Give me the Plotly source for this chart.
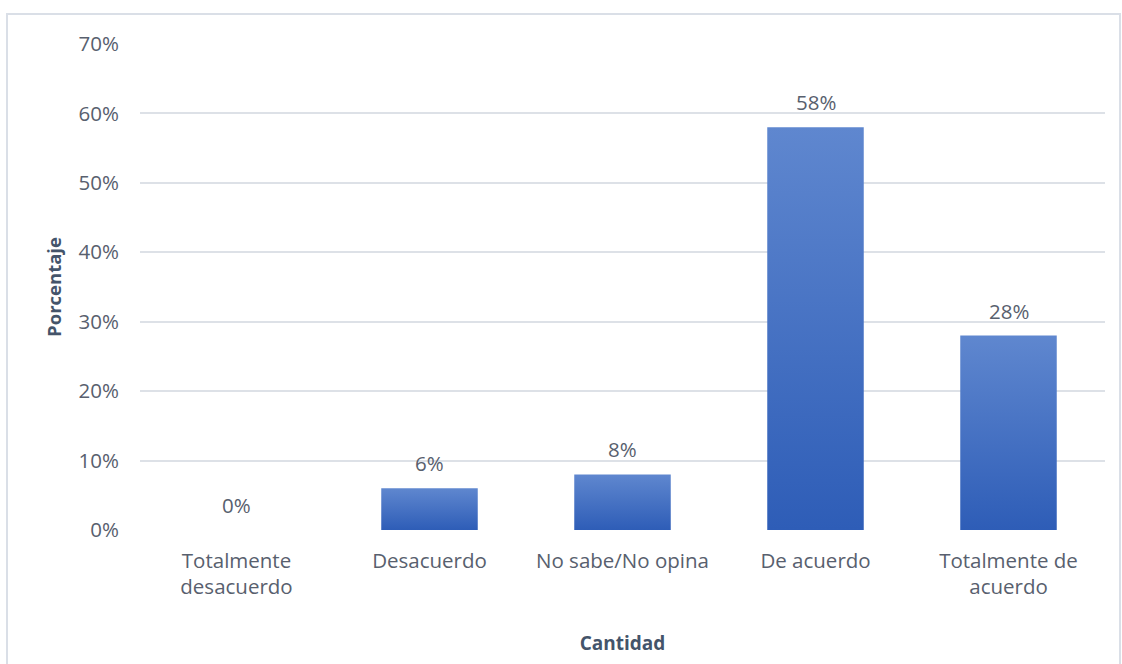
import plotly.graph_objects as go

# Survey responses (percentage of respondents per answer)
categories = ["Totalmente<br>desacuerdo", "Desacuerdo", "No sabe/No opina",
              "De acuerdo", "Totalmente de<br>acuerdo"]
values = [0, 6, 8, 58, 28]
y_ticks = [0, 10, 20, 30, 40, 50, 60, 70]

BAR_HALF = 0.25
TEXT_COLOR = "#58606E"
TITLE_COLOR = "#44546A"
FONT = "Open Sans"
SIZE = 20.5

fig = go.Figure()

# Each bar is a filled polygon so it can carry a vertical gradient
for i, v in enumerate(values):
    fig.add_trace(go.Scatter(
        x=[i - BAR_HALF, i - BAR_HALF, i + BAR_HALF, i + BAR_HALF, i - BAR_HALF],
        y=[0, v, v, 0, 0],
        mode="lines",
        fill="toself",
        fillgradient=dict(type="vertical",
                          colorscale=[[0, "#2E5DB7"], [1, "#5F87CF"]]),
        line=dict(width=0),
        hoverinfo="skip",
        showlegend=False,
    ))

# Value labels above the bars
annotations = [
    dict(x=i, y=v, xref="x", yref="y", text=f"{v}%", showarrow=False,
         yanchor="middle", yshift=25,
         font=dict(family=FONT, size=SIZE, color=TEXT_COLOR))
    for i, v in enumerate(values)
]

fig.update_layout(
    width=1122,
    height=664,
    margin=dict(l=140, r=17, t=44, b=134),
    paper_bgcolor="white",
    plot_bgcolor="white",
    font=dict(family=FONT, size=SIZE, color=TEXT_COLOR),
    annotations=annotations,
    xaxis=dict(
        range=[-0.5, len(values) - 0.5],
        tickmode="array",
        tickvals=list(range(len(values))),
        ticktext=categories,
        showgrid=False,
        zeroline=False,
        showline=False,
        ticks="",
        ticklabelstandoff=16,
        title=dict(text="<b>Cantidad</b>", standoff=37,
                   font=dict(family=FONT, size=19, color=TITLE_COLOR)),
    ),
    yaxis=dict(
        range=[0, 70],
        tickmode="array",
        tickvals=y_ticks,
        ticktext=[f"{t}%" for t in y_ticks],
        showgrid=True,
        gridcolor="#DDE1E7",
        gridwidth=1.5,
        zeroline=False,
        showline=False,
        ticks="",
        ticklabelstandoff=20,
        title=dict(text="<b>Porcentaje</b>", standoff=12,
                   font=dict(family=FONT, size=18.5, color=TITLE_COLOR)),
    ),
    shapes=[dict(
        type="rect", xref="paper", yref="paper",
        x0=(7 - 140) / 965, x1=(1120 - 140) / 965,
        y0=(530 - 700) / 486, y1=(530 - 14) / 486,
        line=dict(color="#DADFE7", width=2),
        fillcolor="rgba(0,0,0,0)",
        layer="below",
    )],
)

fig.write_html("out.html")
